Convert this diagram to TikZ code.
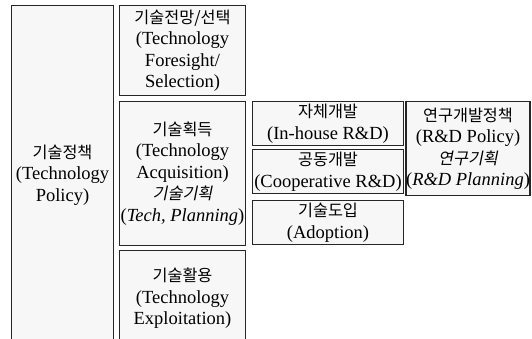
\documentclass[tikz,border=0pt]{standalone}
\usepackage{fontspec}
\setmainfont{Liberation Serif}
\newfontfamily\kr{Noto Sans CJK KR}[Scale=0.88]
\newfontfamily\krit{Noto Sans CJK KR}[Scale=0.88,FakeSlant=0.2]
\definecolor{boxgray}{HTML}{F7F7F7}
\definecolor{edge}{HTML}{262626}
\begin{document}
\begin{tikzpicture}[x=1pt,y=-1pt,
  box/.style={draw=edge, fill=boxgray, line width=1.6pt, inner sep=0pt,
    align=center, font=\fontsize{18.5}{21.5}\selectfont}]
\useasboundingbox (0,0) rectangle (532,339);
\clip (0,0) rectangle (532,339);
\fill[white] (0,0) rectangle (532,339);
% boxes
\node[box, minimum width=102pt, minimum height=339.5pt] (policy) at (62.5,175.25)
  {{\kr 기술정책}\\(Technology\\Policy)};
\node[box, minimum width=126pt, minimum height=90pt] (foresight) at (182.5,50.5)
  {{\kr 기술전망/선택}\\(Technology\\Foresight/\\Selection)};
\node[box, minimum width=126pt, minimum height=144pt] (acq) at (182.5,173.5)
  {{\kr 기술획득}\\(Technology\\Acquisition)\\{\krit 기술기획}\\(\textit{Tech, Planning})};
\node[box, minimum width=126pt, minimum height=95.5pt] (expl) at (182.5,298.25)
  {{\kr 기술활용}\\(Technology\\Exploitation)};
\node[box, minimum width=151pt, minimum height=44pt] (inhouse) at (328,123.5)
  {{\kr 자체개발}\\(In-house R\&D)};
\node[box, minimum width=151pt, minimum height=44pt] (coop) at (328,171.5)
  {{\kr 공동개발}\\(Cooperative R\&D)};
\node[box, minimum width=151pt, minimum height=44pt] (adopt) at (328,222.5)
  {{\kr 기술도입}\\(Adoption)};
\node[box, minimum width=117pt, minimum height=94pt] (rdpolicy) at (468,148.5)
  {{\kr 연구개발정책}\\(R\&D Policy)\\{\krit 연구기획}\\(\textit{R\&D Planning})};
\end{tikzpicture}
\end{document}
